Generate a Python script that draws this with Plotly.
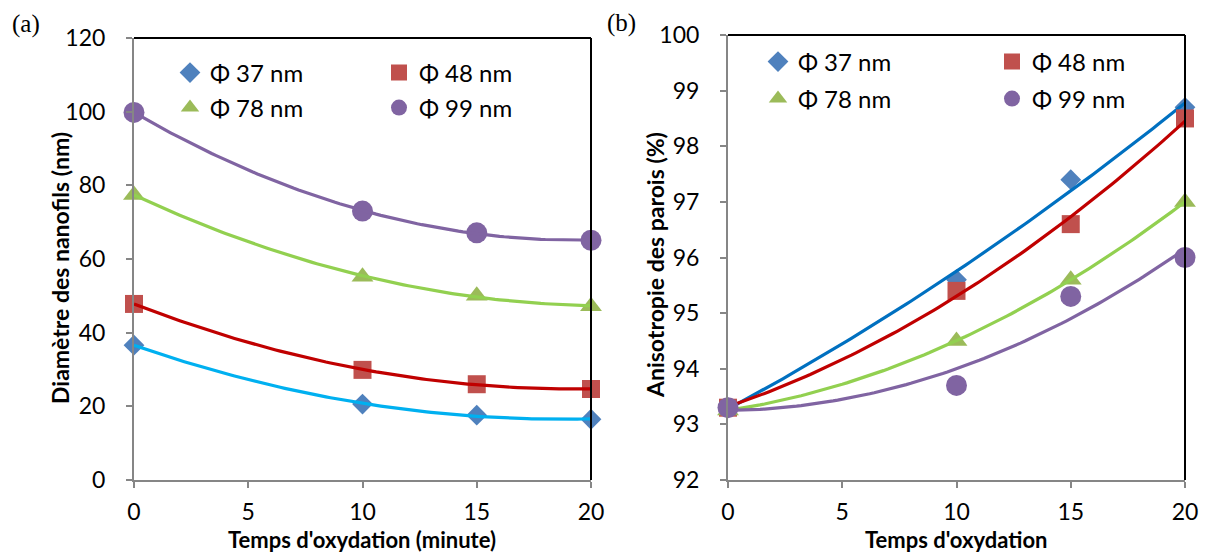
import numpy as np
import plotly.graph_objects as go

# oxidation time (minutes)
temps = [0, 10, 15, 20]

labels = ['Φ 37 nm', 'Φ 48 nm', 'Φ 78 nm', 'Φ 99 nm']

# (a) nanowire diameter (nm)
diam_37 = [36.6, 20.6, 17.6, 16.5]
diam_48 = [47.8, 29.9, 26.0, 24.7]
diam_78 = [77.4, 55.2, 50.0, 47.2]
diam_99 = [99.8, 73.0, 67.1, 65.1]

# (b) wall anisotropy (%)
aniso_37 = [93.30, 95.60, 97.40, 98.70]
aniso_48 = [93.30, 95.40, 96.60, 98.50]
aniso_78 = [93.25, 94.50, 95.60, 97.00]
aniso_99 = [93.30, 93.70, 95.30, 96.00]

marker_colors = ['#4F81BD', '#C0504D', '#9BBB59', '#8064A2']
symbols = ['diamond', 'square', 'triangle-up', 'circle']
sizes = [16, 18, 19, 21]
trend_a = ['#00B0F0', '#C00000', '#92D050', '#8064A2']
trend_b = ['#0070C0', '#C00000', '#92D050', '#8064A2']

TICK_FONT = dict(family='Lato, Noto Sans, sans-serif', size=23, color='black')
TITLE_FONT = dict(family='Lato, Noto Sans, sans-serif', size=23, color='black')
XTITLE_FONT = dict(family='Lato, Noto Sans, sans-serif', size=22, color='black')

# the page body has an 8px margin, so the figure is shifted by that much
OFF = 8
W, H = 1207 - OFF, 555 - OFF


def px_x(p):
    return (p - OFF) / W


def px_y(p):
    return 1 - (p - OFF) / H


fig = go.Figure()


def add_panel(series, trend_colors, xa, ya, legends):
    for i, ys in enumerate(series):
        fig.add_trace(go.Scatter(
            x=temps, y=ys, mode='markers', name=labels[i],
            marker=dict(symbol=symbols[i], size=sizes[i], color=marker_colors[i],
                        line=dict(width=0)),
            cliponaxis=False, xaxis=xa, yaxis=ya,
            legend=legends[i // 2],
        ))
        # second order polynomial trendline, like the original spreadsheet
        coef = np.polyfit(temps, ys, 2)
        xs = np.linspace(temps[0], temps[-1], 101)
        fig.add_trace(go.Scatter(
            x=xs, y=np.polyval(coef, xs), mode='lines', showlegend=False,
            line=dict(color=trend_colors[i], width=3.2),
            cliponaxis=False, xaxis=xa, yaxis=ya, hoverinfo='skip',
        ))


add_panel([diam_37, diam_48, diam_78, diam_99], trend_a, 'x', 'y', ['legend', 'legend2'])
add_panel([aniso_37, aniso_48, aniso_78, aniso_99], trend_b, 'x2', 'y2', ['legend3', 'legend4'])

axis_common = dict(
    showgrid=False, zeroline=False, showline=True, linecolor='#868686', linewidth=2,
    ticks='outside', ticklen=6, tickwidth=2, tickcolor='#868686',
    tickfont=TICK_FONT, fixedrange=True,
)

left_dom = [px_x(134), px_x(591)]
right_dom = [px_x(728), px_x(1185)]

fig.update_layout(
    xaxis=dict(domain=left_dom, range=[0, 20], dtick=5, anchor='y',
               ticklabelstandoff=4, **axis_common),
    yaxis=dict(domain=[px_y(480), px_y(38)], range=[0, 120], dtick=20, anchor='x',
               ticklabelstandoff=16, **axis_common),
    xaxis2=dict(domain=right_dom, range=[0, 20], dtick=5, anchor='y2',
                ticklabelstandoff=4, **axis_common),
    yaxis2=dict(domain=[px_y(480), px_y(35)], range=[92, 100], dtick=1, anchor='x2',
                ticklabelstandoff=16, **axis_common),
)

legend_common = dict(
    orientation='h', font=dict(family='Lato, Noto Sans, sans-serif', size=24, color='black'),
    bgcolor='rgba(0,0,0,0)', borderwidth=0, xanchor='left', yanchor='middle',
    entrywidthmode='pixels', itemwidth=30,
)
fig.update_layout(
    legend=dict(x=px_x(170), y=px_y(73), entrywidth=164, **legend_common),
    legend2=dict(x=px_x(170), y=px_y(108), entrywidth=164, **legend_common),
    legend3=dict(x=px_x(758), y=px_y(62), entrywidth=189, **legend_common),
    legend4=dict(x=px_x(758), y=px_y(99), entrywidth=189, **legend_common),
)

# black top and right frame lines
for xr, yr in [('x domain', 'y domain'), ('x2 domain', 'y2 domain')]:
    fig.add_shape(type='line', xref=xr, yref=yr, x0=0, x1=1, y0=1, y1=1,
                  line=dict(color='black', width=2))
    fig.add_shape(type='line', xref=xr, yref=yr, x0=1, x1=1, y0=0, y1=1,
                  line=dict(color='black', width=2))

annotations = [
    dict(text='(a)', x=px_x(26), y=px_y(24), font=dict(family='Liberation Serif', size=25)),
    dict(text='(b)', x=px_x(621), y=px_y(23), font=dict(family='Liberation Serif', size=25)),
    dict(text='<b>Diamètre des nanofils (nm)</b>', x=px_x(60), y=px_y(268), textangle=-90,
         font=TITLE_FONT),
    dict(text='<b>Anisotropie des parois (%)</b>', x=px_x(655), y=px_y(265), textangle=-90,
         font=TITLE_FONT),
    dict(text="<b>Temps d'oxydation (minute)</b>", x=px_x(362), y=px_y(539), font=XTITLE_FONT),
    dict(text="<b>Temps d'oxydation</b>", x=px_x(956), y=px_y(539), font=XTITLE_FONT),
]
for a in annotations:
    a.update(xref='paper', yref='paper', showarrow=False, xanchor='center', yanchor='middle')
    a['font'].setdefault('color', 'black')
fig.update_layout(annotations=annotations)

fig.update_layout(
    width=W, height=H, margin=dict(l=0, r=0, t=0, b=0, autoexpand=False),
    paper_bgcolor='white', plot_bgcolor='white',
)

fig.write_html("out.html")
